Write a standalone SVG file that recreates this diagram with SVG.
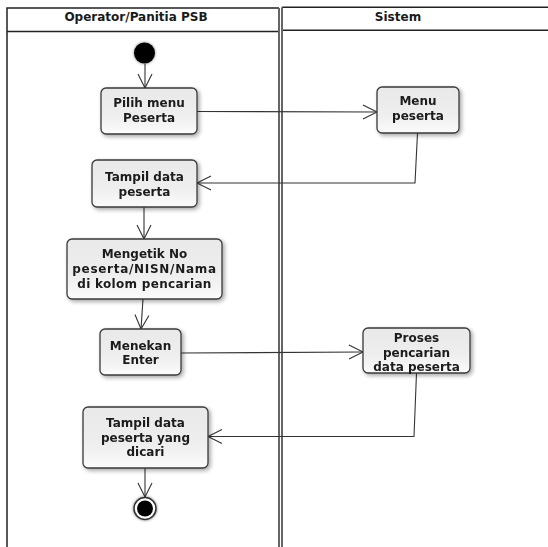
<svg xmlns="http://www.w3.org/2000/svg" width="548" height="547" viewBox="0 0 548 547">
  <style>
    .lane { fill: #ffffff; stroke: none; }
    .edge { stroke: #222; stroke-width: 1.5; fill: none; }
    .sep { stroke: #666; stroke-width: 2; fill: none; }
    .hdr { font-family: "DejaVu Sans", Verdana, sans-serif; font-weight: bold; font-size: 12px; fill: #1a1a1a; text-anchor: middle; }
    .act rect { fill: url(#actFill); stroke: #3a3a3a; stroke-width: 1.3; }
    .act text { font-family: "DejaVu Sans", Verdana, sans-serif; font-weight: bold; font-size: 12px; fill: #1a1a1a; text-anchor: middle; }
    .flow path { stroke: #333; stroke-width: 1.1; fill: none; marker-end: url(#open); }
  </style>
  <defs>
    <linearGradient id="actFill" x1="0" y1="0" x2="0" y2="1">
      <stop offset="0" stop-color="#e9e9e9"/>
      <stop offset="0.6" stop-color="#eeeeee"/>
      <stop offset="1" stop-color="#fbfbfb"/>
    </linearGradient>
    <filter id="shadow" x="-20%" y="-20%" width="150%" height="150%">
      <feGaussianBlur in="SourceAlpha" stdDeviation="2.2"/>
      <feOffset dx="2" dy="2" result="b"/>
      <feComponentTransfer><feFuncA type="linear" slope="0.35"/></feComponentTransfer>
      <feMerge><feMergeNode/><feMergeNode in="SourceGraphic"/></feMerge>
    </filter>
    <filter id="glow" x="-50%" y="-50%" width="200%" height="200%">
      <feGaussianBlur in="SourceAlpha" stdDeviation="1.5"/>
      <feComponentTransfer><feFuncA type="linear" slope="0.5"/></feComponentTransfer>
      <feMerge><feMergeNode/><feMergeNode in="SourceGraphic"/></feMerge>
    </filter>
    <marker id="open" markerUnits="userSpaceOnUse" markerWidth="20" markerHeight="20" viewBox="-16 -10 18 20" refX="0" refY="0" orient="auto">
      <path d="M -14 -7 L 0 0 L -14 7" fill="none" stroke="#333" stroke-width="1.1"/>
    </marker>
  </defs>

  <rect width="548" height="547" fill="#ffffff"/>

  <!-- swimlanes -->
  <g id="lane-operator">
    <path class="edge" d="M 7 560 L 7 8 L 279 8"/>
    <path class="edge" d="M 7 31.5 L 279 31.5"/>
    <path class="sep" d="M 279 8 L 279 560"/>
    <text class="hdr" x="136" y="20.5">Operator/Panitia PSB</text>
  </g>
  <g id="lane-sistem">
    <path class="edge" d="M 282 7.3 L 560 7.3"/>
    <path class="edge" d="M 282 30.3 L 560 30.3"/>
    <path class="sep" d="M 282 7.3 L 282 560"/>
    <text class="hdr" x="398" y="20.5">Sistem</text>
  </g>

  <!-- control flows -->
  <g id="connectors" class="flow">
    <path d="M 145 64 L 145 88"/>
    <path d="M 197 111.5 L 377 112"/>
    <path d="M 417.5 133 L 415 183 L 197 183"/>
    <path d="M 144 207 L 144 239"/>
    <path d="M 143 299 L 141 329"/>
    <path d="M 181 353 L 363 352"/>
    <path d="M 416.5 373 L 414 436.5 L 208 436.5"/>
    <path d="M 145 468 L 145 497"/>
  </g>

  <!-- initial node -->
  <g id="start">
    <circle cx="144.5" cy="53" r="10.5" fill="#000" filter="url(#glow)"/>
  </g>

  <g id="pilih-menu" class="act" filter="url(#shadow)">
    <rect x="101" y="88" width="96" height="46" rx="5"/>
    <text x="149" y="107">Pilih menu</text>
    <text x="149" y="122">Peserta</text>
  </g>

  <g id="menu-peserta" class="act" filter="url(#shadow)">
    <rect x="377" y="87" width="82" height="46" rx="5"/>
    <text x="418" y="105">Menu</text>
    <text x="418" y="120">peserta</text>
  </g>

  <g id="tampil-data" class="act" filter="url(#shadow)">
    <rect x="92" y="160" width="105" height="47" rx="5"/>
    <text x="144.5" y="180.5">Tampil data</text>
    <text x="144.5" y="195.5">peserta</text>
  </g>

  <g id="mengetik" class="act" filter="url(#shadow)">
    <rect x="67" y="239" width="155" height="60" rx="5"/>
    <text x="144.5" y="258">Mengetik No</text>
    <text x="144.5" y="273" letter-spacing="0.7">peserta/NISN/Nama</text>
    <text x="144.5" y="288" letter-spacing="0.3">di kolom pencarian</text>
  </g>

  <g id="menekan-enter" class="act" filter="url(#shadow)">
    <rect x="100" y="329" width="81" height="46" rx="5"/>
    <text x="140.5" y="349.5">Menekan</text>
    <text x="140.5" y="363.5">Enter</text>
  </g>

  <g id="proses-pencarian" class="act" filter="url(#shadow)">
    <rect x="363" y="328" width="107" height="45" rx="5"/>
    <text x="416.5" y="342">Proses</text>
    <text x="416.5" y="356.5">pencarian</text>
    <text x="416.5" y="371">data peserta</text>
  </g>

  <g id="tampil-hasil" class="act" filter="url(#shadow)">
    <rect x="83" y="407" width="125" height="61" rx="5"/>
    <text x="145.5" y="427">Tampil data</text>
    <text x="145.5" y="441.5">peserta yang</text>
    <text x="145.5" y="456">dicari</text>
  </g>

  <!-- final node -->
  <g id="end" filter="url(#glow)">
    <circle cx="145" cy="508.5" r="11" fill="#fff" stroke="#333" stroke-width="1.5"/>
    <circle cx="145" cy="508.5" r="8" fill="#000"/>
  </g>
</svg>
